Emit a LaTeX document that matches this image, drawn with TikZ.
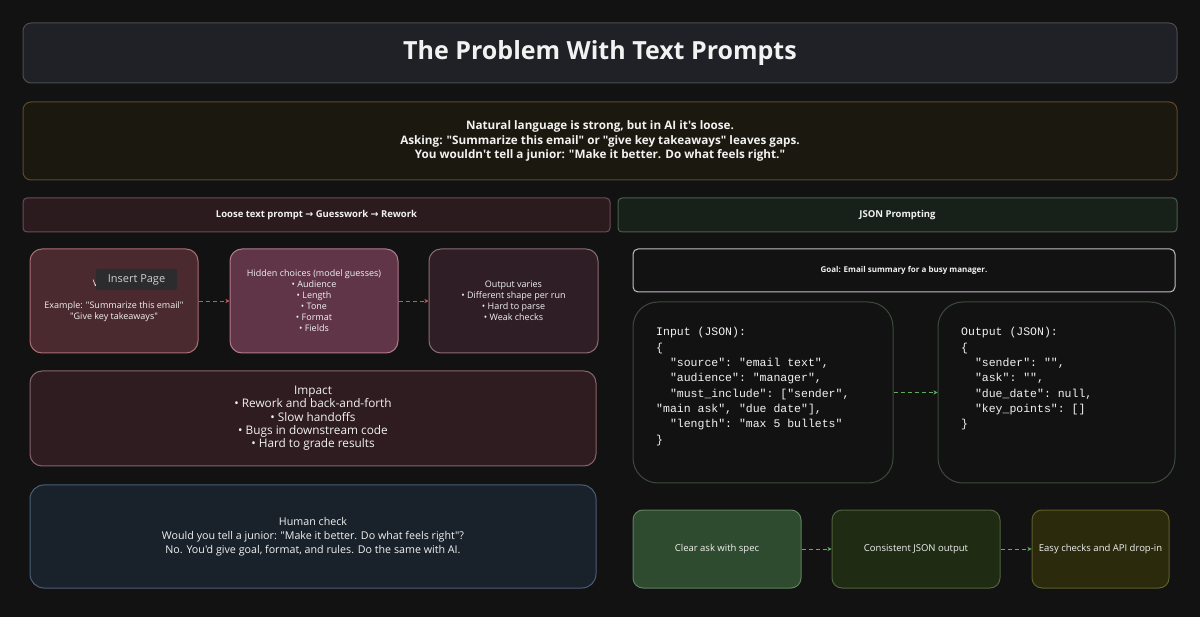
\documentclass[tikz,border=0pt]{standalone}
\usepackage{fontspec}
\setmainfont{Open Sans}[Ligatures=TeXOff]
\setmonofont{Liberation Mono}
\newfontfamily\symfont{DejaVu Sans}
\usetikzlibrary{positioning,arrows.meta}

\definecolor{bgdark}{HTML}{121212}
\definecolor{titlefill}{HTML}{1F2126}
\definecolor{titleline}{HTML}{4A4D52}
\definecolor{introfill}{HTML}{1B1810}
\definecolor{introline}{HTML}{5C4A28}
\definecolor{loosefill}{HTML}{2B1B1F}
\definecolor{looseline}{HTML}{6E4C55}
\definecolor{jsonfill}{HTML}{172019}
\definecolor{jsonline}{HTML}{4D5E4D}
\definecolor{vaguefill}{HTML}{4B2A2F}
\definecolor{vagueline}{HTML}{A86D75}
\definecolor{hiddenfill}{HTML}{5F3547}
\definecolor{hiddenline}{HTML}{B27A8C}
\definecolor{variesfill}{HTML}{2F1E25}
\definecolor{variesline}{HTML}{8C6A72}
\definecolor{impactfill}{HTML}{2E1C21}
\definecolor{impactline}{HTML}{8A626B}
\definecolor{humanfill}{HTML}{19212A}
\definecolor{humanline}{HTML}{4A5F78}
\definecolor{goalline}{HTML}{C0C0C0}
\definecolor{codeline}{HTML}{3C4A3C}
\definecolor{clearfill}{HTML}{2F4B2F}
\definecolor{clearline}{HTML}{5F7F5F}
\definecolor{consfill}{HTML}{1F2B13}
\definecolor{consline}{HTML}{4F6340}
\definecolor{easyfill}{HTML}{2B2A0D}
\definecolor{easyline}{HTML}{5F5E2A}
\definecolor{redarrow}{HTML}{C85A5A}
\definecolor{greenarrow}{HTML}{5FAE5F}
\definecolor{tipfill}{HTML}{2C2C2E}
\definecolor{softwhite}{HTML}{F2F2F2}

\newcommand\ind{\hphantom{xx}}
\newcommand\sym[1]{{\symfont #1}}

\begin{document}
\begin{tikzpicture}[x=1pt, y=-1pt,
  box/.style={draw, line width=1pt, text=softwhite, align=center,
    inner sep=0pt, rounded corners=12pt},
  card/.style={box, minimum width=168pt, minimum height=104pt,
    font=\fontsize{9}{11}\selectfont},
  band/.style={box, rounded corners=4pt, minimum height=34pt,
    font=\fontsize{9.5}{11}\selectfont\bfseries},
  codebox/.style={box, fill=bgdark, draw=codeline, rounded corners=25pt,
    minimum height=181pt},
  code/.style={align=left, text=softwhite, inner sep=0pt,
    font=\ttfamily\fontsize{11.5}{15.3}\selectfont},
  result/.style={box, rounded corners=10pt, minimum height=78pt,
    font=\fontsize{9.5}{11}\selectfont},
  redflow/.style={-{Stealth[length=4pt,width=4pt]}, redarrow,
    line width=0.8pt, dash pattern=on 4pt off 3pt},
  greenflow/.style={-{Stealth[length=4pt,width=4pt]}, greenarrow,
    line width=0.8pt, dash pattern=on 4pt off 3pt}]
  \useasboundingbox[fill=bgdark] (0,0) rectangle (1200,617);

  % header
  \node[box, fill=titlefill, draw=titleline, rounded corners=8pt,
    minimum width=1154pt, minimum height=60pt,
    font=\fontsize{25}{30}\selectfont\bfseries] (title) at (600,53)
    {The Problem With Text Prompts};
  \node[box, fill=introfill, draw=introline, rounded corners=8pt,
    minimum width=1154pt, minimum height=78pt,
    font=\fontsize{11.7}{14.5}\selectfont\bfseries] (intro) at (600,141)
    {Natural language is strong, but in AI it's loose.\\
     Asking: "Summarize this email" or "give key takeaways" leaves gaps.\\
     You wouldn't tell a junior: "Make it better. Do what feels right."};

  % left side
  \node[band, fill=loosefill, draw=looseline, minimum width=587pt]
    (loose) at (316.5,215)
    {Loose text prompt \sym{→} Guesswork \sym{→} Rework};
  \node[card, fill=vaguefill, draw=vagueline] (vague) at (114,301)
    {Vague ask\\ \\ Example: "Summarize this email"\\ "Give key takeaways"};
  \node[card, fill=hiddenfill, draw=hiddenline, right=31pt of vague] (hidden)
    {Hidden choices (model guesses)\\ • Audience\\ • Length\\ • Tone\\
     • Format\\ • Fields};
  \node[card, fill=variesfill, draw=variesline, minimum width=169pt,
    right=30pt of hidden] (varies)
    {Output varies\\ • Different shape per run\\ • Hard to parse\\
     • Weak checks};
  \node[box, fill=impactfill, draw=impactline, minimum width=566pt,
    minimum height=95pt, font=\fontsize{11.8}{13.3}\selectfont] (impact)
    at (313,418.5)
    {Impact\\ • Rework and back-and-forth\\ • Slow handoffs\\
     • Bugs in downstream code\\ • Hard to grade results};
  \node[box, fill=humanfill, draw=humanline, rounded corners=14pt,
    minimum width=566pt, minimum height=103pt,
    font=\fontsize{10.7}{14}\selectfont] (human) at (313,536.5)
    {Human check\\
     Would you tell a junior: "Make it better. Do what feels right"?\\
     No. You'd give goal, format, and rules. Do the same with AI.};
  \node[fill=tipfill, text=softwhite!85!black, rounded corners=2pt,
    minimum width=81pt, minimum height=21pt, inner sep=0pt,
    font=\fontsize{11}{13}\selectfont] (tip) at (136.5,279.5) {Insert Page};

  \draw[redflow] (vague) -- (hidden);
  \draw[redflow] (hidden) -- (varies);

  % right side
  \node[band, fill=jsonfill, draw=jsonline, minimum width=559pt]
    (json) at (897.5,215) {JSON Prompting};
  \node[box, fill=bgdark, draw=goalline, rounded corners=5pt,
    minimum width=542pt, minimum height=43pt,
    font=\fontsize{8}{10}\selectfont\bfseries] (goal) at (904,270.5)
    {Goal: Email summary for a busy manager.};
  \node[codebox, minimum width=260pt] (input) at (763,392.5) {};
  \node[codebox, minimum width=237pt] (output) at (1056.5,392.5) {};
  \node[code, anchor=base west] (incode) at (656,443.1)
    {Input (JSON):\\ \{\\ \ind"source": "email text",\\
     \ind"audience": "manager",\\ \ind"must\_include": ["sender",\\
     "main ask", "due date"],\\ \ind"length": "max 5 bullets"\\ \}};
  \node[code, anchor=base west] (outcode) at (961,427.8)
    {Output (JSON):\\ \{\\ \ind"sender": "",\\ \ind"ask": "",\\
     \ind"due\_date": null,\\ \ind"key\_points": []\\ \}};
  \draw[greenflow] (input) -- (output);

  \node[result, fill=clearfill, draw=clearline, minimum width=168pt]
    (clear) at (717,549) {Clear ask with spec};
  \node[result, fill=consfill, draw=consline, minimum width=168pt,
    right=30pt of clear] (consistent) {Consistent JSON output};
  \node[result, fill=easyfill, draw=easyline, minimum width=137pt,
    right=31pt of consistent] (easy) {Easy checks and API drop-in};
  \draw[greenflow] (clear) -- (consistent);
  \draw[greenflow] (consistent) -- (easy);
\end{tikzpicture}
\end{document}
